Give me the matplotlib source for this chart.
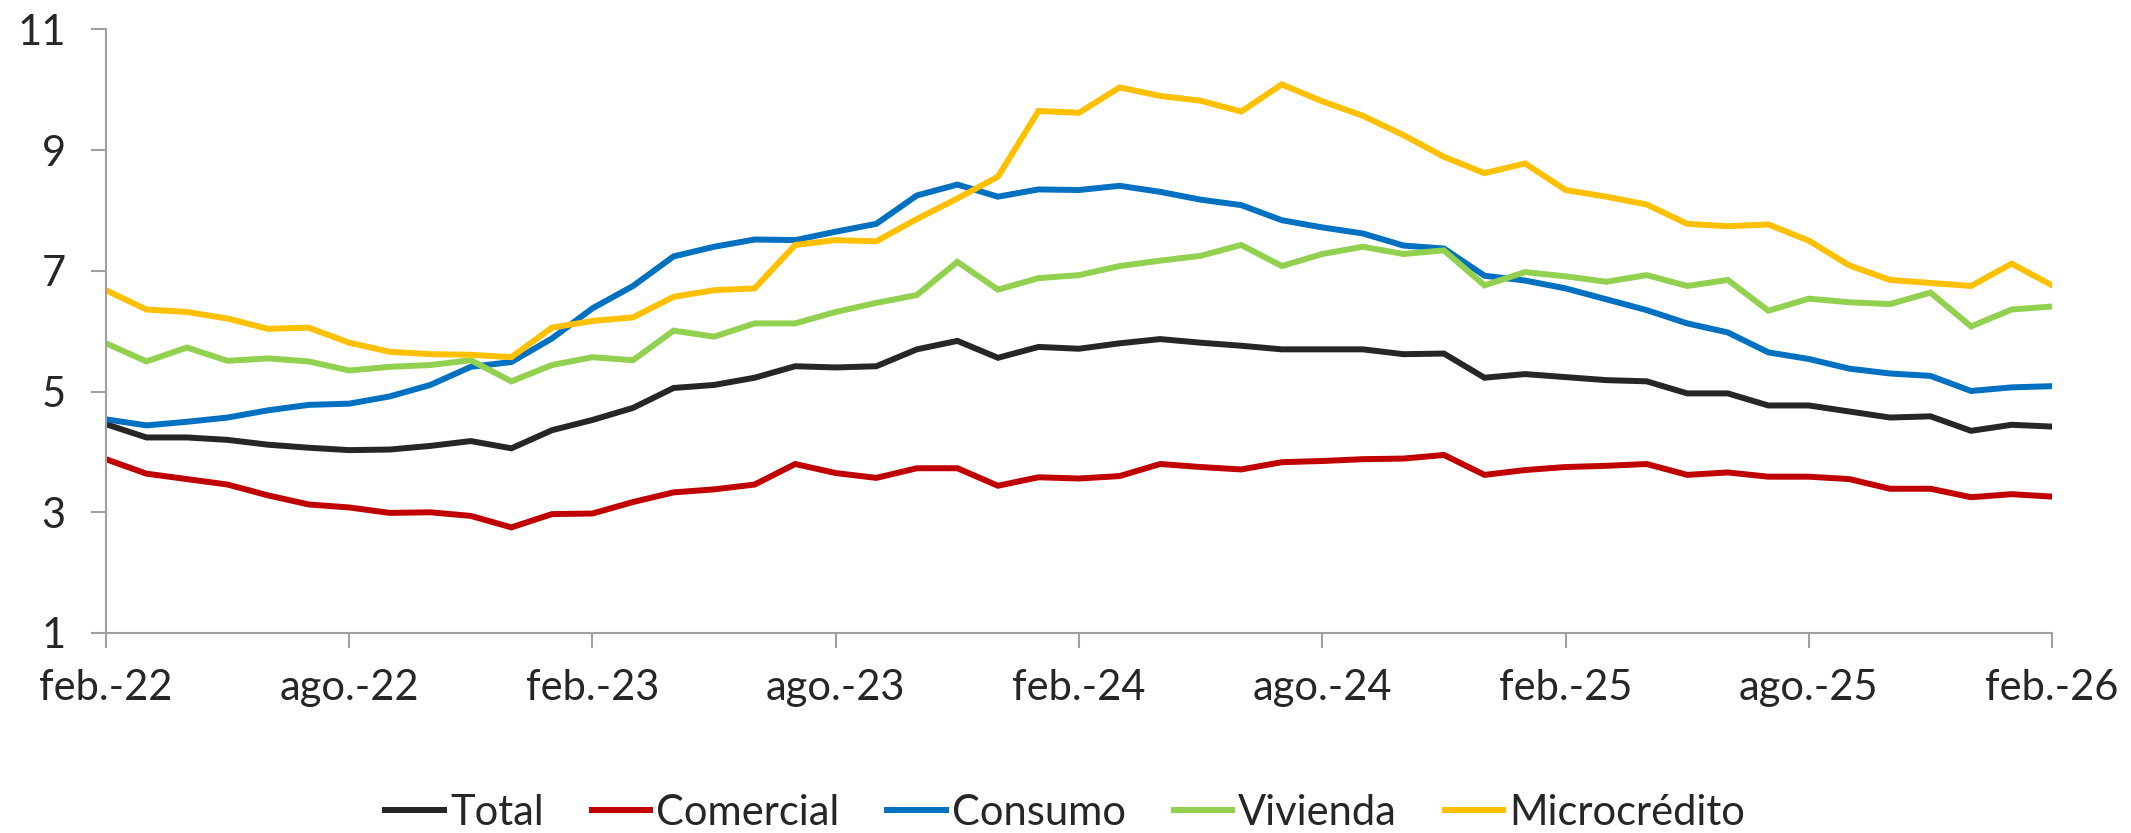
import numpy as np
import matplotlib
matplotlib.use("Agg")
import matplotlib.pyplot as plt

plt.rcParams["font.family"] = ["Lato", "DejaVu Sans"]

# monthly series, feb-22 .. feb-26
TOTAL = [4.46, 4.24, 4.24, 4.20, 4.12, 4.07, 4.03, 4.04, 4.10, 4.18,
         4.06, 4.36, 4.53, 4.73, 5.06, 5.11, 5.23, 5.42, 5.40, 5.42,
         5.70, 5.84, 5.56, 5.74, 5.71, 5.80, 5.87, 5.81, 5.76, 5.70,
         5.70, 5.70, 5.62, 5.63, 5.23, 5.29, 5.24, 5.19, 5.17, 4.97,
         4.97, 4.77, 4.77, 4.67, 4.57, 4.59, 4.35, 4.45, 4.42]
COMERCIAL = [3.88, 3.64, 3.55, 3.46, 3.28, 3.13, 3.08, 2.99, 3.00, 2.94,
             2.75, 2.97, 2.98, 3.17, 3.33, 3.38, 3.46, 3.80, 3.65, 3.57,
             3.73, 3.73, 3.44, 3.58, 3.56, 3.60, 3.80, 3.75, 3.71, 3.83,
             3.85, 3.88, 3.89, 3.95, 3.62, 3.70, 3.75, 3.77, 3.80, 3.62,
             3.66, 3.59, 3.59, 3.55, 3.39, 3.39, 3.25, 3.30, 3.26]
CONSUMO = [4.54, 4.44, 4.50, 4.57, 4.69, 4.78, 4.80, 4.92, 5.11, 5.41,
           5.49, 5.88, 6.38, 6.75, 7.24, 7.40, 7.52, 7.51, 7.65, 7.78,
           8.25, 8.43, 8.23, 8.35, 8.34, 8.41, 8.31, 8.18, 8.09, 7.84,
           7.72, 7.62, 7.42, 7.37, 6.92, 6.84, 6.71, 6.53, 6.35, 6.13,
           5.98, 5.65, 5.54, 5.38, 5.30, 5.26, 5.01, 5.07, 5.09]
VIVIENDA = [5.80, 5.50, 5.73, 5.51, 5.55, 5.50, 5.35, 5.41, 5.44, 5.52,
            5.17, 5.44, 5.57, 5.52, 6.01, 5.91, 6.13, 6.13, 6.32, 6.47,
            6.60, 7.15, 6.69, 6.88, 6.93, 7.08, 7.17, 7.25, 7.43, 7.08,
            7.28, 7.40, 7.28, 7.34, 6.76, 6.98, 6.91, 6.82, 6.93, 6.75,
            6.85, 6.34, 6.54, 6.48, 6.45, 6.64, 6.08, 6.36, 6.41]
MICROCREDITO = [6.68, 6.36, 6.32, 6.21, 6.04, 6.06, 5.81, 5.66, 5.62, 5.61,
                5.57, 6.06, 6.17, 6.23, 6.57, 6.68, 6.71, 7.43, 7.51, 7.49,
                7.86, 8.20, 8.56, 9.65, 9.62, 10.04, 9.90, 9.82, 9.64, 10.09,
                9.81, 9.57, 9.25, 8.89, 8.62, 8.78, 8.34, 8.23, 8.10, 7.78,
                7.74, 7.77, 7.50, 7.09, 6.85, 6.80, 6.75, 7.12, 6.76]

SERIES = ["Total", "Comercial", "Consumo", "Vivienda", "Microcrédito"]
COLORS = ["#262626", "#C00000", "#0070C0", "#92D050", "#FFC000"]
TICK_LABELS = ["feb.-22", "ago.-22", "feb.-23", "ago.-23", "feb.-24",
               "ago.-24", "feb.-25", "ago.-25", "feb.-26"]
YTICKS = [1, 3, 5, 7, 9, 11]

TEXT = "#262626"
AXIS = "#A0A0A0"

fig = plt.figure(figsize=(21.31, 8.33), dpi=100)
ax = fig.add_axes([0.0497, 0.2401, 0.9133, 0.7245])

x = np.arange(len(TOTAL))
for name, vals, col in zip(SERIES, [TOTAL, COMERCIAL, CONSUMO, VIVIENDA, MICROCREDITO], COLORS):
    ax.plot(x, vals, color=col, lw=4.3, label=name, solid_joinstyle="miter")

ax.set_xlim(0, len(TOTAL) - 1)
ax.set_ylim(1, 11)
ax.set_xticks(np.arange(0, len(TOTAL), 6))
ax.set_xticklabels(TICK_LABELS)
ax.set_yticks(YTICKS)

for s in ["top", "right"]:
    ax.spines[s].set_visible(False)
for s in ["left", "bottom"]:
    ax.spines[s].set_color(AXIS)
    ax.spines[s].set_linewidth(1.5)

ax.tick_params(axis="both", colors=AXIS, labelcolor=TEXT, labelsize=30,
               length=11, width=1.5, direction="out")
ax.tick_params(axis="y", pad=18)
ax.tick_params(axis="x", pad=15)

fig.legend(loc="center", bbox_to_anchor=(0.5, 0.024), ncol=5, frameon=False,
           fontsize=30, handlelength=1.4, handletextpad=0.15,
           columnspacing=1.15, borderaxespad=0, labelcolor=TEXT)

fig.savefig("out.png", dpi=100, facecolor="white")
